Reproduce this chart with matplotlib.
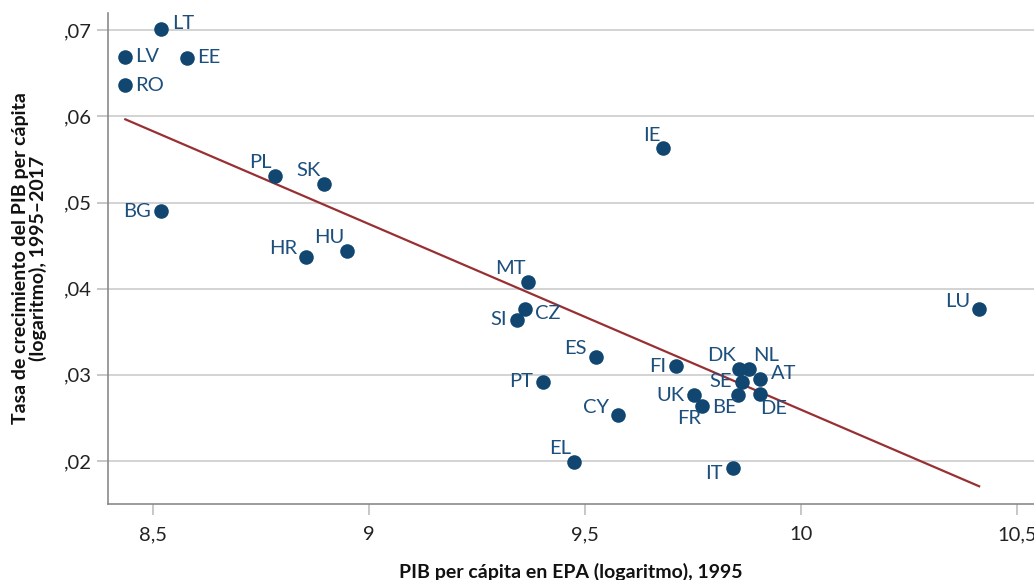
import matplotlib
matplotlib.use("Agg")
from matplotlib import pyplot as plt
import numpy as np

plt.rcParams['font.family'] = ['Lato', 'DejaVu Sans']

# datos: PIB per capita 1995 (log) y tasa de crecimiento 1995-2017
paises = ['LT', 'LV', 'EE', 'RO', 'PL', 'SK', 'BG', 'HR', 'HU', 'IE', 'MT', 'CZ',
          'SI', 'LU', 'ES', 'FI', 'PT', 'CY', 'EL', 'UK', 'FR', 'DK', 'NL', 'SE',
          'AT', 'BE', 'DE', 'IT']
pib_1995 = [8.519, 8.436, 8.578, 8.436, 8.782, 8.896, 8.519, 8.854, 8.949, 9.681,
            9.369, 9.360, 9.342, 10.412, 9.525, 9.711, 9.402, 9.576, 9.474, 9.753,
            9.770, 9.856, 9.879, 9.863, 9.904, 9.853, 9.904, 9.842]
crecimiento = [0.0701, 0.0669, 0.0668, 0.0636, 0.0531, 0.0522, 0.0490, 0.0437,
               0.0444, 0.0563, 0.0408, 0.0376, 0.0364, 0.0376, 0.0321, 0.0310,
               0.0292, 0.0253, 0.0199, 0.0276, 0.0264, 0.0307, 0.0307, 0.0292,
               0.0295, 0.0277, 0.0278, 0.0192]

x_ticks = [8.5, 9, 9.5, 10, 10.5]
x_ticklabels = ['8,5', '9', '9,5', '10', '10,5']
y_ticks = [0.02, 0.03, 0.04, 0.05, 0.06, 0.07]
y_ticklabels = [',02', ',03', ',04', ',05', ',06', ',07']

# posicion de etiqueta (reloj)
posicion = [2, 3, 3, 3, 11, 11, 9, 10, 11, 11, 11, 4, 9, 10, 10, 9, 9, 10, 11, 9,
            7, 11, 1, 9, 2, 7, 5, 8]
reloj = {1: (4, 13), 2: (11, 6), 3: (10, 0), 4: (10, -4), 5: (1, -15),
         7: (-1, -13), 8: (-10, -6), 9: (-10, 0), 10: (-9, 8), 11: (-3, 13)}

azul = '#10466f'
azul_txt = '#1d4f7c'
rojo = '#983033'

dpi = 100
fig = plt.figure(figsize=(10.34, 5.8), dpi=dpi)
ax = fig.add_axes([108 / 1034, 1 - 504 / 580, 926 / 1034, 491 / 580])

ax.set_xlim(8.396, 10.539)
ax.set_ylim(0.015, 0.072)

ax.set_yticks(y_ticks)
ax.set_yticklabels(y_ticklabels)
ax.set_xticks(x_ticks)
ax.set_xticklabels(x_ticklabels)
ax.grid(axis='y', color='#d0d0d0', lw=1.3)
ax.set_axisbelow(True)

# recta de regresion
b, a = np.polyfit(pib_1995, crecimiento, 1)
xs = np.array([min(pib_1995), max(pib_1995)])
ax.plot(xs, a + b * xs, color=rojo, lw=1.6, zorder=2)

ax.scatter(pib_1995, crecimiento, s=110, color=azul, zorder=3, linewidths=0)

k = 72 / dpi
for p, x, y, pos in zip(paises, pib_1995, crecimiento, posicion):
    dx, dy = reloj[pos]
    ax.annotate(p, (x, y), xytext=(dx * k, dy * k), textcoords='offset points',
                ha='left' if dx > 0 else 'right', va='center',
                fontsize=14.5, color=azul_txt, zorder=4)

for s in ['top', 'right']:
    ax.spines[s].set_visible(False)
for s in ['left', 'bottom']:
    ax.spines[s].set_color('#8a8a8a')
    ax.spines[s].set_linewidth(1.2)
ax.tick_params(axis='both', colors='#bdbdbd', labelcolor='#222222', labelsize=14.5,
               length=8, width=1.2)
ax.tick_params(axis='x', pad=8)

ax.set_xlabel('PIB per cápita en EPA (logaritmo), 1995', fontsize=14,
              fontweight='bold', color='#111111', labelpad=14)
ax.set_ylabel('Tasa de crecimiento del PIB per cápita\n(logaritmo), 1995–2017',
              fontsize=14, fontweight='bold', color='#111111', labelpad=12,
              linespacing=1.0)

fig.savefig('out.png', dpi=dpi)
